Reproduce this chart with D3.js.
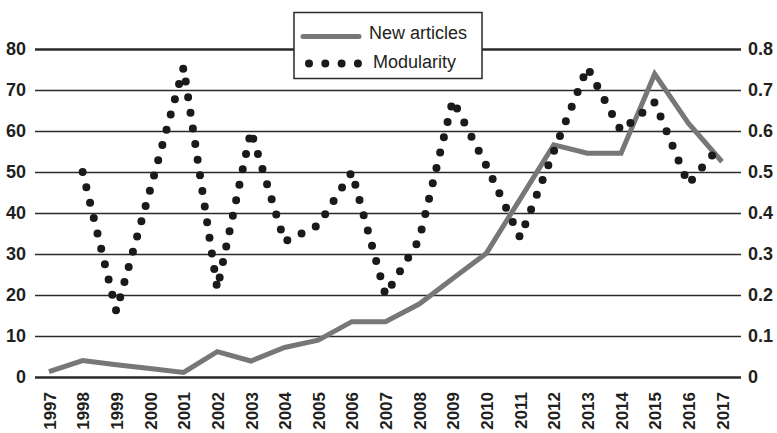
<!DOCTYPE html>
<html>
<head>
<meta charset="utf-8">
<script src="https://cdn.jsdelivr.net/npm/d3@7"></script>
<style>
  body { margin: 0; background: #fff; }
  svg { display: block; font-family: "Liberation Sans", Arial, sans-serif; }
</style>
</head>
<body>
<svg id="chart"></svg>
<script>
// data
const years = d3.range(1997, 2018);
const newArticles = [1.3, 4.0, 3.0, 2.1, 1.1, 6.2, 3.9, 7.2, 9.0, 13.5, 13.5, 17.8, 24.0, 30.2, 43.4, 56.6, 54.6, 54.6, 73.9, 61.9, 52.5];
const modYears = d3.range(1998, 2018);
const modularity = [0.50, 0.16, 0.455, 0.755, 0.215, 0.60, 0.33, 0.37, 0.50, 0.20, 0.335, 0.675, 0.515, 0.34, 0.55, 0.755, 0.60, 0.67, 0.47, 0.57];
const leftTicks = [0, 10, 20, 30, 40, 50, 60, 70, 80];
const rightTicks = [0, 0.1, 0.2, 0.3, 0.4, 0.5, 0.6, 0.7, 0.8];
const seriesNames = ['New articles', 'Modularity'];

const width = 777, height = 433;
const gridLeft = 35, gridRight = 741;

const svg = d3.select('#chart')
    .attr('width', width)
    .attr('height', height);

const x = d3.scaleLinear().domain([1997, 2017]).range([49, 722]);
const yLeft = d3.scaleLinear().domain([0, 80]).range([377, 49]);
const yRight = d3.scaleLinear().domain([0, 0.8]).range([377, 49]);

// left axis + grid lines
const leftAxis = svg.append('g')
    .attr('transform', `translate(${gridLeft},0)`)
    .call(d3.axisLeft(yLeft)
        .tickValues(leftTicks)
        .tickSize(-(gridRight - gridLeft))
        .tickPadding(9)
        .tickFormat(d3.format('d')));
leftAxis.select('.domain').remove();
leftAxis.selectAll('line')
    .attr('stroke', '#2a2a2a')
    .attr('stroke-width', d => (d === 0 || d === 80) ? 2.6 : 1.3);
leftAxis.selectAll('text')
    .attr('fill', '#231f20')
    .style('font-size', '18px')
    .style('font-weight', 'bold')
    .style('font-family', '"Liberation Sans", Arial, sans-serif');

// right axis (labels only)
const rightAxis = svg.append('g')
    .attr('transform', `translate(${gridRight},0)`)
    .call(d3.axisRight(yRight)
        .tickValues(rightTicks)
        .tickSize(0)
        .tickPadding(7)
        .tickFormat(d => d === 0 ? '0' : d3.format('.1f')(d)));
rightAxis.select('.domain').remove();
rightAxis.selectAll('text')
    .attr('fill', '#231f20')
    .style('font-size', '18px')
    .style('font-weight', 'bold')
    .style('font-family', '"Liberation Sans", Arial, sans-serif');

// bottom axis, rotated year labels
const bottomAxis = svg.append('g')
    .attr('transform', `translate(0,${yLeft(0)})`)
    .call(d3.axisBottom(x)
        .tickValues(years)
        .tickSize(0)
        .tickFormat(d3.format('d')));
bottomAxis.select('.domain').remove();
bottomAxis.selectAll('text')
    .attr('transform', 'rotate(-90)')
    .attr('x', -15)
    .attr('y', 0)
    .attr('dy', '0.36em')
    .attr('text-anchor', 'end')
    .attr('fill', '#231f20')
    .style('font-size', '17px')
    .style('font-weight', 'bold')
    .style('font-family', '"Liberation Sans", Arial, sans-serif');

// new articles line
const articleLine = d3.line()
    .x((d, i) => x(years[i]))
    .y(d => yLeft(d));

svg.append('path')
    .datum(newArticles)
    .attr('fill', 'none')
    .attr('stroke', '#777')
    .attr('stroke-width', 5)
    .attr('stroke-linejoin', 'miter')
    .attr('d', articleLine);

// modularity dotted line
const modLine = d3.line()
    .x((d, i) => x(modYears[i]))
    .y(d => yRight(d));

svg.append('path')
    .datum(modularity)
    .attr('fill', 'none')
    .attr('stroke', '#1a1a1a')
    .attr('stroke-width', 8)
    .attr('stroke-linecap', 'round')
    .attr('stroke-dasharray', '0 15.8')
    .attr('d', modLine);

// legend
const legend = svg.append('g')
    .attr('transform', 'translate(294,12.5)');

legend.append('rect')
    .attr('width', 188)
    .attr('height', 66)
    .attr('fill', '#fff')
    .attr('stroke', '#2a2a2a')
    .attr('stroke-width', 1.5);

legend.append('line')
    .attr('x1', 9).attr('x2', 65)
    .attr('y1', 24).attr('y2', 24)
    .attr('stroke', '#777')
    .attr('stroke-width', 5)
    .attr('stroke-linecap', 'round');

legend.append('line')
    .attr('x1', 15).attr('x2', 64)
    .attr('y1', 51).attr('y2', 51)
    .attr('stroke', '#1a1a1a')
    .attr('stroke-width', 8)
    .attr('stroke-linecap', 'round')
    .attr('stroke-dasharray', '0 16.3');

legend.selectAll('text.leg')
    .data(seriesNames)
    .join('text')
    .attr('class', 'leg')
    .attr('x', (d, i) => i === 0 ? 75 : 79)
    .attr('y', (d, i) => i === 0 ? 26 : 55)
    .attr('fill', '#231f20')
    .style('font-size', '18px')
    .style('font-family', '"Liberation Sans Narrow", "Liberation Sans", Arial, sans-serif')
    .style('font-stretch', 'condensed')
    .text(d => d);
</script>
</body>
</html>
